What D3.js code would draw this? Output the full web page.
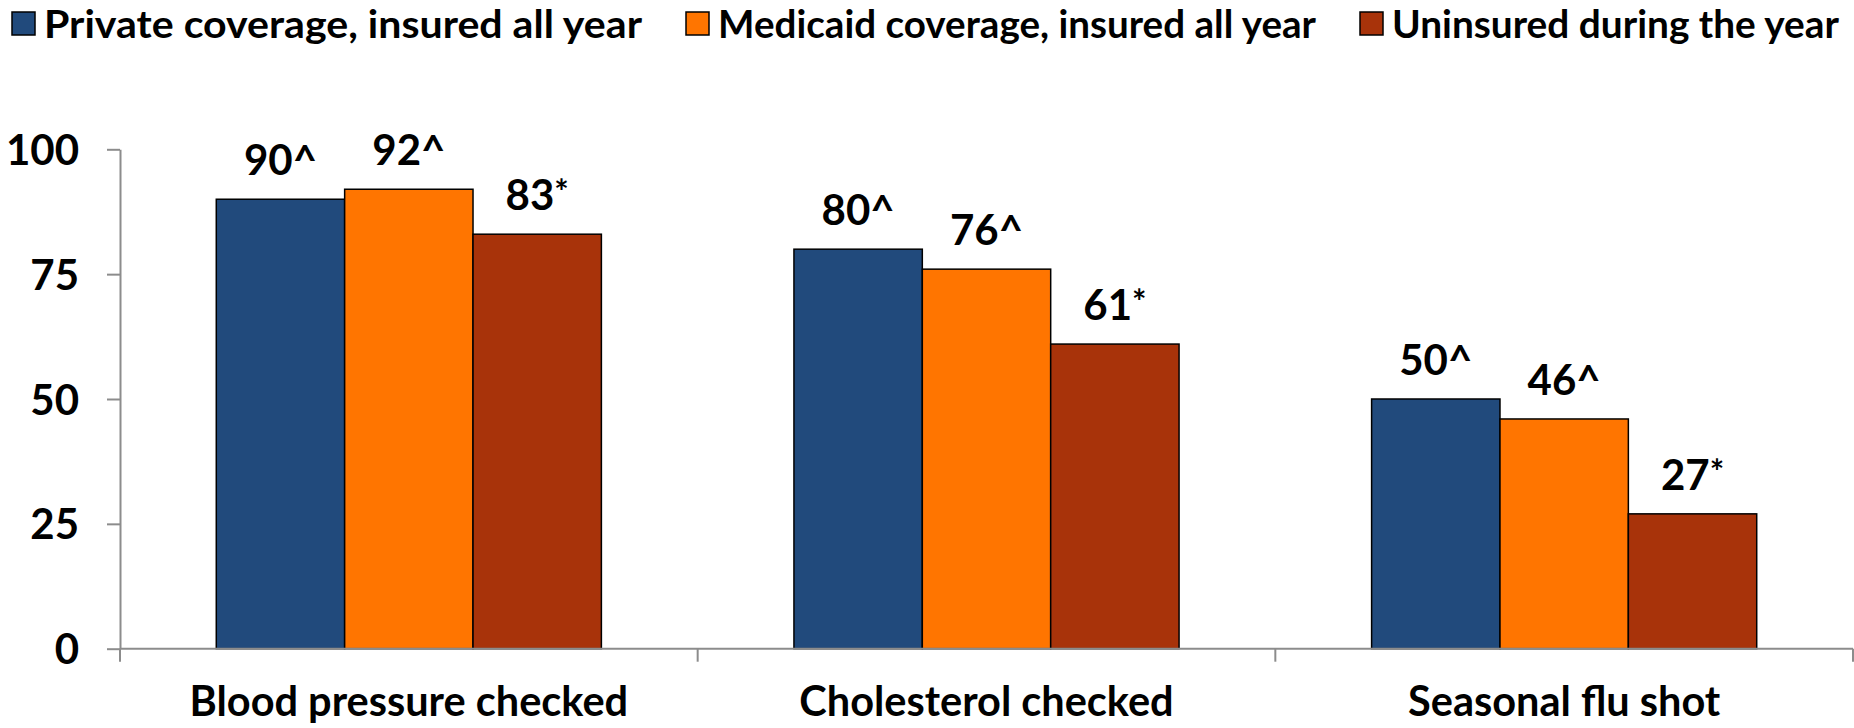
<!DOCTYPE html>
<html><head><meta charset="utf-8">
<script src="https://cdn.jsdelivr.net/npm/d3@7/dist/d3.min.js"></script>
<style>
html,body{margin:0;padding:0;background:#fff;}
svg text{font-family:Lato,"Open Sans",sans-serif;font-weight:bold;fill:#000;}
</style></head>
<body>
<svg id="chart" width="1854" height="728"></svg>
<script>
const categories = ["Blood pressure checked", "Cholesterol checked", "Seasonal flu shot"];
const seriesNames = ["Private coverage, insured all year", "Medicaid coverage, insured all year", "Uninsured during the year"];
const privateVals = [90, 80, 50];
const medicaidVals = [92, 76, 46];
const uninsuredVals = [83, 61, 27];
const privateMarks = ["^", "^", "^"];
const medicaidMarks = ["^", "^", "^"];
const uninsuredMarks = ["*", "*", "*"];
const yTicks = [0, 25, 50, 75, 100];
const colors = ["#214a7c", "#ff7500", "#a8330a"];

const series = [
  {name: seriesNames[0], values: privateVals, marks: privateMarks, color: colors[0]},
  {name: seriesNames[1], values: medicaidVals, marks: medicaidMarks, color: colors[1]},
  {name: seriesNames[2], values: uninsuredVals, marks: uninsuredMarks, color: colors[2]}
];

const svg = d3.select("#chart");
const left = 120, right = 1853, y0 = 648.7, y100 = 149.3;
const axisColor = "#8c8c8c";

const x = d3.scaleBand().domain(categories).range([left, right]).padding(0);
const bw = x.bandwidth();
const xs = d3.scaleBand().domain(d3.range(series.length)).range([bw/6, bw*5/6]).padding(0);
const y = d3.scaleLinear().domain([0, 100]).range([y0, y100]);

// y axis
const yAxis = svg.append("g").attr("transform", `translate(${left},0)`)
  .call(d3.axisLeft(y).tickValues(yTicks).tickSize(13).tickPadding(28).tickSizeOuter(0));
yAxis.select(".domain").attr("stroke", axisColor).attr("stroke-width", 2);
yAxis.selectAll(".tick line").attr("stroke", axisColor).attr("stroke-width", 2);
yAxis.selectAll(".tick text").style("font-size", "42px").attr("dy", "0.36em").attr("fill", "#000");

// bars
categories.forEach((c, ci) => {
  const g = svg.append("g").attr("transform", `translate(${x(c)},0)`);
  series.forEach((s, si) => {
    const v = s.values[ci];
    g.append("rect")
      .attr("x", xs(si)).attr("y", y(v))
      .attr("width", xs.bandwidth()).attr("height", y(0) - y(v))
      .attr("fill", s.color).attr("stroke", "#000").attr("stroke-width", 1.5);
    const t = g.append("text")
      .attr("x", xs(si) + xs.bandwidth()/2).attr("y", y(v) - 24)
      .attr("text-anchor", "middle").style("font-size", "42px");
    t.append("tspan").text(v);
    t.append("tspan").text(s.marks[ci]).style("font-size", s.marks[ci] === "*" ? "34px" : "42px")
      .attr("dy", s.marks[ci] === "*" ? "-6" : "0");
  });
});

// x axis
svg.append("line").attr("x1", left).attr("x2", right).attr("y1", y0).attr("y2", y0)
  .attr("stroke", axisColor).attr("stroke-width", 2);
const bounds = categories.map(c => x(c)).concat([x(categories[categories.length-1]) + bw]);
svg.selectAll(".xtick").data(bounds).enter().append("line")
  .attr("x1", d => d).attr("x2", d => d).attr("y1", y0).attr("y2", y0 + 13)
  .attr("stroke", axisColor).attr("stroke-width", 2);
svg.selectAll(".xlab").data(categories).enter().append("text")
  .attr("x", d => x(d) + bw/2).attr("y", 716).attr("text-anchor", "middle")
  .style("font-size", "41.5px").text(d => d);

// legend
const legendX = [12, 686, 1360];
const legendW = [598, 598, 447];
series.forEach((s, i) => {
  svg.append("rect").attr("x", legendX[i]).attr("y", 12).attr("width", 23).attr("height", 23)
    .attr("fill", s.color).attr("stroke", "#000").attr("stroke-width", 1.5);
  svg.append("text").attr("x", legendX[i] + 32).attr("y", 38).style("font-size", "39px")
    .attr("textLength", legendW[i]).attr("lengthAdjust", "spacingAndGlyphs").text(s.name);
});
</script>
</body></html>
